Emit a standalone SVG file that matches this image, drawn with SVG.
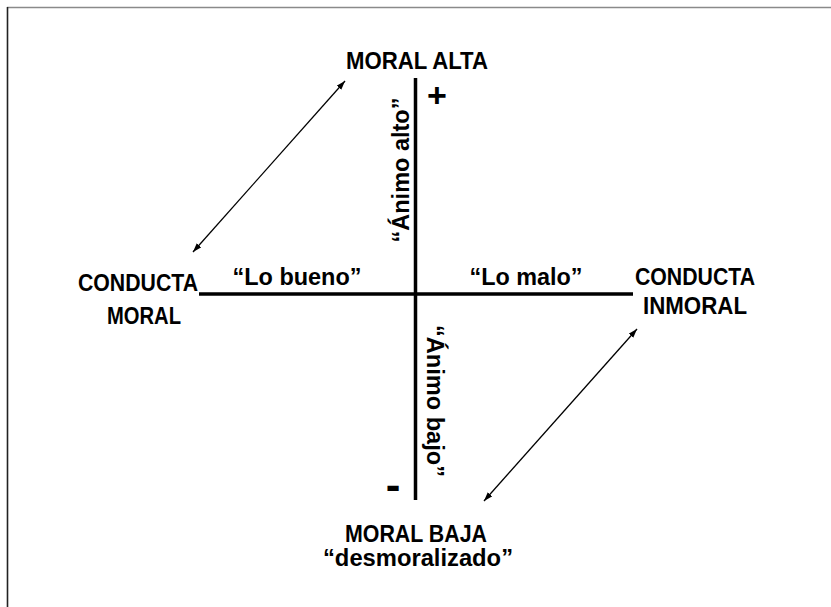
<svg xmlns="http://www.w3.org/2000/svg" width="831" height="607" viewBox="0 0 831 607">
  <style>
    .t { font-family: "Liberation Sans", Arial, sans-serif; font-weight: bold; font-size: 23.5px; fill: #000; text-anchor: middle; }
    .axis { stroke: #000; stroke-width: 3.5; fill: none; }
    .conn { stroke: #000; stroke-width: 1.3; fill: none; marker-start: url(#ah); marker-end: url(#ah); }
  </style>
  <defs>
    <marker id="ah" markerUnits="userSpaceOnUse" markerWidth="10" markerHeight="7" refX="9" refY="3" orient="auto-start-reverse">
      <path d="M0,0 L9,3 L0,6 z" fill="#000"/>
    </marker>
  </defs>
  <rect width="831" height="607" fill="#fff"/>
  <g id="frame">
    <line x1="7" y1="7.5" x2="831" y2="7.5" stroke="#8a8a8a" stroke-width="1.6"/>
    <line x1="7.5" y1="7" x2="7.5" y2="607" stroke="#222" stroke-width="1.6"/>
  </g>
  <g id="axes">
    <line class="axis" x1="415.5" y1="78" x2="415.5" y2="500"/>
    <line class="axis" x1="199" y1="294" x2="633" y2="294"/>
    <text class="t" x="437" y="107" style="font-size:34px">+</text>
    <text class="t" x="393" y="500" style="font-size:44px">-</text>
  </g>
  <g id="node-moral-alta">
    <text class="t" x="417" y="69" textLength="142" lengthAdjust="spacingAndGlyphs">MORAL ALTA</text>
  </g>
  <g id="node-moral-baja">
    <text class="t" x="416" y="542" textLength="142" lengthAdjust="spacingAndGlyphs">MORAL BAJA</text>
    <text class="t" x="418" y="566" textLength="190" lengthAdjust="spacingAndGlyphs">“desmoralizado”</text>
  </g>
  <g id="node-conducta-moral">
    <text class="t" x="138" y="291" textLength="120" lengthAdjust="spacingAndGlyphs">CONDUCTA</text>
    <text class="t" x="144" y="324" textLength="74" lengthAdjust="spacingAndGlyphs">MORAL</text>
  </g>
  <g id="node-conducta-inmoral">
    <text class="t" x="695" y="285" textLength="120" lengthAdjust="spacingAndGlyphs">CONDUCTA</text>
    <text class="t" x="695" y="314" textLength="104" lengthAdjust="spacingAndGlyphs">INMORAL</text>
  </g>
  <g id="labels">
    <text class="t" x="297" y="285" textLength="129" lengthAdjust="spacingAndGlyphs">“Lo bueno”</text>
    <text class="t" x="526" y="285" textLength="113" lengthAdjust="spacingAndGlyphs">“Lo malo”</text>
    <text class="t" transform="translate(409,170) rotate(-90)" x="0" y="0" textLength="145" lengthAdjust="spacingAndGlyphs">“Ánimo alto”</text>
    <text class="t" transform="translate(427,401) rotate(90)" x="0" y="0" textLength="152" lengthAdjust="spacingAndGlyphs">“Ánimo bajo”</text>
  </g>
  <g id="connectors">
    <line class="conn" x1="193" y1="252" x2="345" y2="81"/>
    <line class="conn" x1="637" y1="329" x2="484" y2="501"/>
  </g>
</svg>
